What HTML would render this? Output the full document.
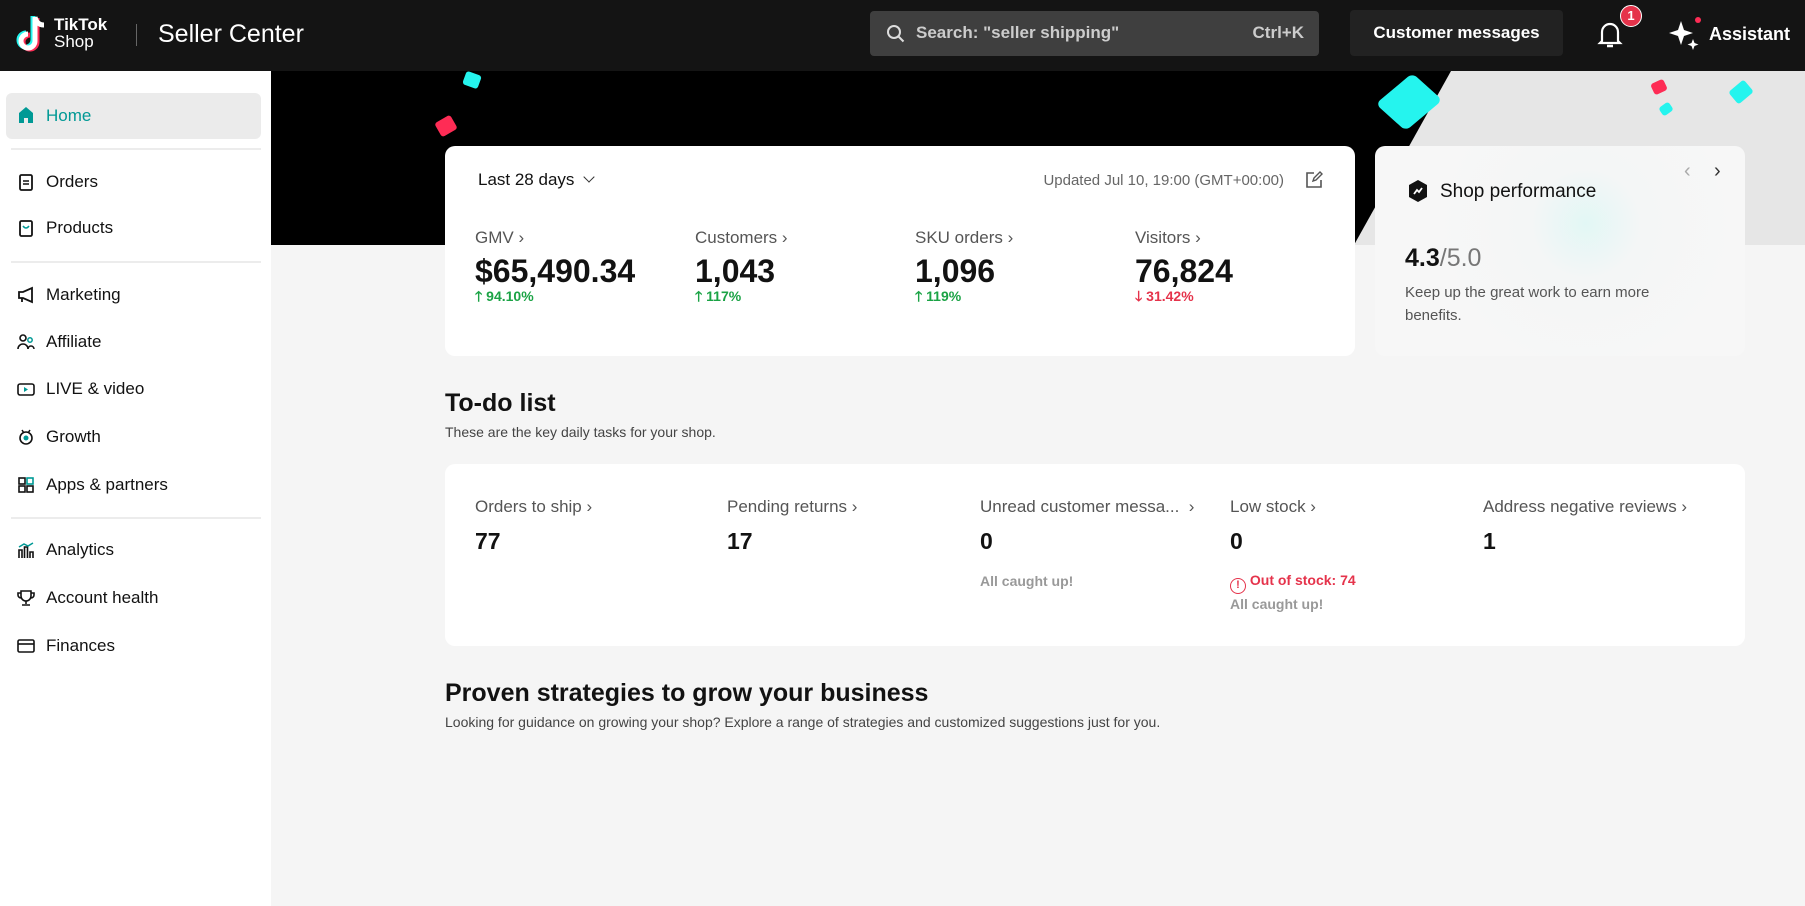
<!DOCTYPE html>
<html><head><meta charset="utf-8">
<style>
*{margin:0;padding:0;box-sizing:border-box}
body{width:1805px;height:906px;overflow:hidden;background:#f5f5f5;font-family:"Liberation Sans",Arial,sans-serif;position:relative;color:#121212}
.a{position:absolute;white-space:nowrap}
.hdr{position:absolute;left:0;top:0;width:1805px;height:71px;background:#141414}
.side{position:absolute;left:0;top:71px;width:271px;height:835px;background:#fff}
.nav{position:absolute;left:46px;font-size:17px;line-height:20px;color:#121212}
.ic{position:absolute;left:17px;width:18px;height:18px}
.div{position:absolute;left:11px;width:250px;height:2px;background:#ececec}
.card{position:absolute;background:#fff;border-radius:10px}
.lbl{font-size:17px;color:#555;line-height:20px}
.val{font-size:32px;font-weight:bold;line-height:36px}
.chg{font-size:14px;font-weight:bold;line-height:16px}
.tl{font-size:17px;color:#555;line-height:20px}
.tv{font-size:23px;line-height:26px;font-weight:600}
.cf{position:absolute;border-radius:3px}
</style></head><body>
<div class="hdr">
  <svg class="a" style="left:15px;top:14px" width="36" height="40" viewBox="0 0 36 40">
    <path d="M20 3v24a7 7 0 1 1-7-7" fill="none" stroke="#25f4ee" stroke-width="5" transform="translate(-2,-1)"/>
    <path d="M20 3v24a7 7 0 1 1-7-7" fill="none" stroke="#fe2c55" stroke-width="5" transform="translate(2,1)"/>
    <path d="M20 3v24a7 7 0 1 1-7-7M20 3c1 5 4 8 9 8" fill="none" stroke="#fff" stroke-width="5"/>
  </svg>
  <div class="a" style="left:54px;top:16px;color:#fff;font-weight:bold;font-size:17px;line-height:17px">TikTok<br><span style="font-weight:normal">Shop</span></div>
  <div class="a" style="left:136px;top:24px;width:1px;height:22px;background:#666"></div>
  <div class="a" style="left:158px;top:19px;color:#fff;font-size:25px;line-height:30px">Seller Center</div>
  <div class="a" style="left:870px;top:11px;width:449px;height:45px;background:#3f3f3f;border-radius:4px">
    <svg class="a" style="left:16px;top:13px" width="20" height="20" viewBox="0 0 20 20"><circle cx="8" cy="8" r="6" fill="none" stroke="#ddd" stroke-width="2"/><path d="M12.5 12.5l5 5" stroke="#ddd" stroke-width="2"/></svg>
    <div class="a" style="left:46px;top:12px;font-size:17px;color:#ccc;line-height:20px;font-weight:bold">Search: "seller shipping"</div>
    <div class="a" style="right:15px;top:12px;font-size:17px;color:#ccc;line-height:20px;font-weight:bold">Ctrl+K</div>
  </div>
  <div class="a" style="left:1350px;top:10px;width:213px;height:46px;background:#222;border-radius:4px;color:#fff;font-size:17px;font-weight:bold;line-height:46px;text-align:center">Customer messages</div>
  <svg class="a" style="left:1596px;top:20px" width="28" height="30" viewBox="0 0 28 30"><path d="M6 21V12a8 8 0 0 1 16 0v9l2 2H4z" fill="none" stroke="#fff" stroke-width="2.2"/><path d="M11 26h6" stroke="#fff" stroke-width="2.5"/></svg>
  <div class="a" style="left:1620px;top:5px;width:22px;height:22px;border-radius:11px;background:#e5334b;border:1.5px solid #fff;color:#fff;font-size:13px;font-weight:bold;text-align:center;line-height:19px">1</div>
  <svg class="a" style="left:1668px;top:17px" width="34" height="34" viewBox="0 0 34 34"><path d="M13 4l3 9 9 3-9 3-3 9-3-9-9-3 9-3z" fill="#fff"/><path d="M25 22l1.5 4 4 1.5-4 1.5-1.5 4-1.5-4-4-1.5 4-1.5z" fill="#fff"/><circle cx="30" cy="3" r="3" fill="#fe2c55"/></svg>
  <div class="a" style="left:1709px;top:24px;color:#fff;font-size:18px;font-weight:bold;line-height:20px">Assistant</div>
</div>

<div class="side"></div>
<div class="a" style="left:6px;top:93px;width:255px;height:46px;background:#ebebeb;border-radius:6px"></div>
<svg class="ic" style="top:106px" viewBox="0 0 18 18"><path d="M2 7l7-6 7 6v10h-5v-5H7v5H2z" fill="#009995"/></svg>
<div class="nav" style="top:106px;color:#009995">Home</div>
<div class="div" style="top:148px"></div>
<svg class="ic" style="top:173px" viewBox="0 0 18 18"><rect x="3" y="2" width="12" height="15" rx="1.5" fill="none" stroke="#121212" stroke-width="1.8"/><path d="M6 8h6M6 11h6" stroke="#121212" stroke-width="1.5"/></svg>
<div class="nav" style="top:172px">Orders</div>
<svg class="ic" style="top:219px" viewBox="0 0 18 18"><rect x="3" y="2" width="12" height="15" rx="1.5" fill="none" stroke="#121212" stroke-width="1.8"/><path d="M6 7q3 4 6 0" fill="none" stroke="#009995" stroke-width="1.5"/></svg>
<div class="nav" style="top:218px">Products</div>
<div class="div" style="top:261px"></div>
<svg class="ic" style="top:286px" viewBox="0 0 18 18"><path d="M2 6h4l9-4v14l-9-4H2z M5 12v4" fill="none" stroke="#121212" stroke-width="1.8"/></svg>
<div class="nav" style="top:285px">Marketing</div>
<svg class="ic" style="top:333px" viewBox="0 0 18 18"><circle cx="6" cy="5" r="3" fill="none" stroke="#121212" stroke-width="1.6"/><path d="M1 16a5 5 0 0 1 10 0" fill="none" stroke="#121212" stroke-width="1.6"/><circle cx="13" cy="7" r="2.2" fill="none" stroke="#009995" stroke-width="1.5"/><path d="M11 16a3 3 0 0 1 6 0" fill="none" stroke="#121212" stroke-width="1.5"/></svg>
<div class="nav" style="top:332px">Affiliate</div>
<svg class="ic" style="top:380px" viewBox="0 0 18 18"><rect x="1" y="4" width="16" height="11" rx="2" fill="none" stroke="#121212" stroke-width="1.6"/><path d="M7 7v5l4-2.5z" fill="#009995"/></svg>
<div class="nav" style="top:379px">LIVE &amp; video</div>
<svg class="ic" style="top:428px" viewBox="0 0 18 18"><circle cx="9" cy="10" r="6" fill="none" stroke="#121212" stroke-width="1.6"/><circle cx="9" cy="10" r="2.5" fill="#009995"/><path d="M5 2l2 3M13 2l-2 3" stroke="#121212" stroke-width="1.5"/></svg>
<div class="nav" style="top:427px">Growth</div>
<svg class="ic" style="top:476px" viewBox="0 0 18 18"><rect x="2" y="2" width="6" height="6" fill="none" stroke="#121212" stroke-width="1.6"/><rect x="10" y="2" width="6" height="6" fill="none" stroke="#009995" stroke-width="1.6"/><rect x="2" y="10" width="6" height="6" fill="none" stroke="#121212" stroke-width="1.6"/><rect x="10" y="10" width="6" height="6" fill="none" stroke="#121212" stroke-width="1.6"/></svg>
<div class="nav" style="top:475px">Apps &amp; partners</div>
<div class="div" style="top:517px"></div>
<svg class="ic" style="top:541px" viewBox="0 0 18 18"><path d="M2 17V9h3v8M7.5 17V6h3v11M13 17V11h3v6" fill="none" stroke="#121212" stroke-width="1.6"/><path d="M2 6l5-3 4 2 5-3" fill="none" stroke="#009995" stroke-width="1.5"/></svg>
<div class="nav" style="top:540px">Analytics</div>
<svg class="ic" style="top:589px" viewBox="0 0 18 18"><path d="M4 2h10v5a5 5 0 0 1-10 0zM4 4H1v2a3 3 0 0 0 3 3M14 4h3v2a3 3 0 0 1-3 3M9 12v3M5 16h8" fill="none" stroke="#121212" stroke-width="1.6"/></svg>
<div class="nav" style="top:588px">Account health</div>
<svg class="ic" style="top:637px" viewBox="0 0 18 18"><rect x="1" y="3" width="16" height="12" rx="1.5" fill="none" stroke="#121212" stroke-width="1.6"/><path d="M1 7h16" stroke="#121212" stroke-width="1.6"/></svg>
<div class="nav" style="top:636px">Finances</div>

<!-- banner -->
<div class="a" style="left:271px;top:71px;width:1534px;height:174px;background:#e6e6e6"></div>
<svg class="a" style="left:271px;top:71px" width="1180" height="174"><polygon points="0,0 1180,0 1083,174 0,174" fill="#000"/></svg>
<div class="cf" style="left:464px;top:73px;width:16px;height:14px;background:#25f4ee;transform:rotate(20deg)"></div>
<div class="cf" style="left:437px;top:118px;width:18px;height:16px;background:#fe2c55;transform:rotate(-30deg)"></div>
<div class="cf" style="left:1385px;top:82px;width:48px;height:40px;background:#25f4ee;transform:rotate(-40deg) skewX(8deg);border-radius:6px"></div>
<div class="cf" style="left:1652px;top:81px;width:14px;height:12px;background:#fe2c55;transform:rotate(-25deg)"></div>
<div class="cf" style="left:1660px;top:104px;width:12px;height:10px;background:#25f4ee;transform:rotate(-35deg)"></div>
<div class="cf" style="left:1731px;top:84px;width:20px;height:16px;background:#25f4ee;transform:rotate(-40deg)"></div>

<!-- stats card -->
<div class="card" style="left:445px;top:146px;width:910px;height:210px"></div>
<div class="a" style="left:478px;top:170px;font-size:17px;line-height:20px">Last 28 days <span style="display:inline-block;width:8px;height:8px;border-right:1.5px solid #333;border-bottom:1.5px solid #333;transform:rotate(45deg);margin:0 0 4px 6px"></span></div>
<div class="a" style="right:521px;top:172px;font-size:15px;color:#666;line-height:18px">Updated Jul 10, 19:00 (GMT+00:00)</div>
<svg class="a" style="left:1305px;top:171px" width="18" height="18" viewBox="0 0 18 18"><path d="M9 2H2v14h14V9" fill="none" stroke="#555" stroke-width="1.6"/><path d="M8 10l1-3 6-6 2 2-6 6z" fill="none" stroke="#555" stroke-width="1.4"/></svg>

<div class="a lbl" style="left:475px;top:228px">GMV ›</div>
<div class="a val" style="left:475px;top:253px">$65,490.34</div>
<div class="a chg" style="left:475px;top:288px;color:#1ba345">🡑 94.10%</div>
<div class="a lbl" style="left:695px;top:228px">Customers ›</div>
<div class="a val" style="left:695px;top:253px">1,043</div>
<div class="a chg" style="left:695px;top:288px;color:#1ba345">🡑 117%</div>
<div class="a lbl" style="left:915px;top:228px">SKU orders ›</div>
<div class="a val" style="left:915px;top:253px">1,096</div>
<div class="a chg" style="left:915px;top:288px;color:#1ba345">🡑 119%</div>
<div class="a lbl" style="left:1135px;top:228px">Visitors ›</div>
<div class="a val" style="left:1135px;top:253px">76,824</div>
<div class="a chg" style="left:1135px;top:288px;color:#e5334b">🡓 31.42%</div>

<!-- shop performance -->
<div class="card" style="left:1375px;top:146px;width:370px;height:210px;background:radial-gradient(circle at 57% 37%,#e2f7f5 0,#f4f6f6 22%,#f7f7f7 60%);"></div>
<svg class="a" style="left:1407px;top:179px" width="22" height="24" viewBox="0 0 22 24"><path d="M11 1l9 5v12l-9 5-9-5V6z" fill="#121212"/><path d="M7 15l3-4 2 2 3-4" fill="none" stroke="#fff" stroke-width="1.8"/></svg>
<div class="a" style="left:1440px;top:180px;font-size:19px;line-height:23px">Shop performance</div>
<div class="a" style="left:1684px;top:160px;font-size:20px;color:#aaa">‹</div>
<div class="a" style="left:1714px;top:160px;font-size:20px;color:#333">›</div>
<div class="a" style="left:1405px;top:244px;font-size:25px;line-height:28px"><b>4.3</b><span style="color:#777">/5.0</span></div>
<div class="a" style="left:1405px;top:281px;font-size:15px;color:#555;line-height:23px;white-space:normal;width:300px">Keep up the great work to earn more benefits.</div>

<!-- todo -->
<div class="a" style="left:445px;top:388px;font-size:25px;font-weight:600;line-height:30px">To-do list</div>
<div class="a" style="left:445px;top:424px;font-size:14px;color:#444;line-height:16px">These are the key daily tasks for your shop.</div>
<div class="card" style="left:445px;top:464px;width:1300px;height:182px"></div>
<div class="a tl" style="left:475px;top:497px">Orders to ship ›</div>
<div class="a tv" style="left:475px;top:528px">77</div>
<div class="a tl" style="left:727px;top:497px">Pending returns ›</div>
<div class="a tv" style="left:727px;top:528px">17</div>
<div class="a tl" style="left:980px;top:497px">Unread customer messa...&nbsp;&nbsp;›</div>
<div class="a tv" style="left:980px;top:528px">0</div>
<div class="a" style="left:980px;top:573px;font-size:14px;color:#999;font-weight:bold">All caught up!</div>
<div class="a tl" style="left:1230px;top:497px">Low stock ›</div>
<div class="a tv" style="left:1230px;top:528px">0</div>
<div class="a" style="left:1230px;top:572px;font-size:14px;color:#e5334b;font-weight:bold"><span style="display:inline-block;width:16px;height:16px;border:1.5px solid #e5334b;border-radius:8px;text-align:center;font-size:11px;line-height:13px;vertical-align:-3px">!</span> Out of stock: 74</div>
<div class="a" style="left:1230px;top:596px;font-size:14px;color:#999;font-weight:bold">All caught up!</div>
<div class="a tl" style="left:1483px;top:497px">Address negative reviews ›</div>
<div class="a tv" style="left:1483px;top:528px">1</div>

<div class="a" style="left:445px;top:678px;font-size:25px;font-weight:600;line-height:30px">Proven strategies to grow your business</div>
<div class="a" style="left:445px;top:714px;font-size:14px;color:#444;line-height:16px">Looking for guidance on growing your shop? Explore a range of strategies and customized suggestions just for you.</div>
</body></html>
